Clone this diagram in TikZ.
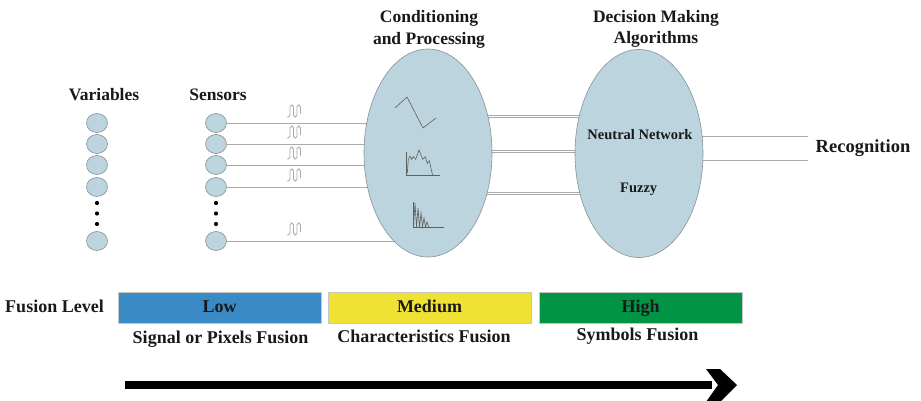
\documentclass[tikz,border=0pt]{standalone}
\usepackage{fontspec}
\setmainfont{Liberation Serif}
\usetikzlibrary{shapes.geometric}
\definecolor{ebl}{RGB}{188,212,222}
\definecolor{eborder}{RGB}{135,145,150}
\definecolor{lowc}{RGB}{58,138,198}
\definecolor{medc}{RGB}{240,226,50}
\definecolor{highc}{RGB}{0,148,68}
\definecolor{txt}{RGB}{25,25,25}
\definecolor{wire}{RGB}{170,170,170}
\definecolor{sketchc}{RGB}{95,95,95}
\pgfdeclarelayer{bg}
\pgfsetlayers{bg,main}
\tikzset{
  lbl/.style={font=\bfseries\fontsize{17.5}{21.7}\selectfont, text=txt, inner sep=0pt, anchor=base, align=center},
  blbl/.style={font=\bfseries\fontsize{18}{21}\selectfont, text=txt, inner sep=0pt, anchor=base},
  inlbl/.style={font=\bfseries\fontsize{14.5}{17}\selectfont, text=txt, inner sep=0pt, anchor=base},
  bigell/.style={ellipse, fill=ebl, draw=eborder, line width=0.6pt, minimum width=128pt, minimum height=208pt, inner sep=0pt},
  ball/.style={ellipse, fill=ebl, draw=eborder, line width=0.6pt, minimum width=21pt, minimum height=19pt, inner sep=0pt},
  bdot/.style={circle, fill=black, minimum size=4.2pt, inner sep=0pt},
  wireline/.style={draw=wire, line width=0.8pt},
  dline/.style={draw=wire, line width=0.7pt, double=white, double distance=1.8pt},
  levelbox/.style={draw=gray!45, line width=0.4pt, minimum width=203pt, minimum height=31pt, inner sep=0pt,
    font=\bfseries\fontsize{18}{21}\selectfont, text=txt, text height=12.5pt, text depth=3.5pt},
  skl/.style={draw=sketchc, line width=0.6pt, line join=miter},
  sq/.pic={\draw[draw=wire, line width=0.8pt, rounded corners=1.8pt]
     (-8,6) -- (-5,6) -- (-5,-6) -- (-1.5,-6) -- (-1.5,6) -- (2,6) -- (2,-6) -- (5.5,-6) -- (5.5,3);}
}
\begin{document}
\begin{tikzpicture}[x=1pt,y=-1pt]
\useasboundingbox (0,0) rectangle (921,401);

% ellipses
\node[bigell] (e1) at (428,153) {};
\node[bigell] (e2) at (639,153.5) {};

% titles
\node[lbl] (vt) at (104,101) {Variables};
\node[lbl] (st) at (218,101) {Sensors};
\node[lbl] (ct) at (429,44.4) {Conditioning\\and Processing};
\node[lbl] (dt) at (656,43.8) {Decision Making\\Algorithms};

% variables
\foreach \i/\y in {1/123,2/144,3/165,4/187,5/241}{
  \node[ball] (v\i) at (97,\y) {};
  \node[ball] (s\i) at (216,\y) {};
}
\foreach \y in {203,213.5,224}{
  \node[bdot] at (97,\y) {};
  \node[bdot] at (216,\y) {};
}

% sensor wires and squiggles
\begin{pgfonlayer}{bg}
\foreach \i in {1,...,5}{
  \draw[wireline] (s\i.east) -- (s\i -| e1);
}
\coordinate (m1) at (0,116.5);
\coordinate (m2) at (0,151.5);
\coordinate (m3) at (0,193.5);
\foreach \m in {m1,m2,m3}{
  \draw[dline] (e1 |- \m) -- (e2 |- \m);
}
\coordinate (r1) at (808,137.7);
\coordinate (r2) at (808,159.3);
\draw[dline] (e2 |- r1) -- (r1);
\draw[dline] (e2 |- r2) -- (r2);
\end{pgfonlayer}

\foreach \y in {123,144,165,187,241}{
  \pic at (295,\y-12) {sq};
}

% sketches inside conditioning ellipse
\draw[skl] (395,108) -- (407,97) -- (423,128) -- (436,118);
\draw[skl] (406.7,151.7) -- (406.7,175.7) -- (440,175.7);
\draw[skl] (407.3,173) -- (408.3,159.3) -- (410,156) -- (411.7,159.3) -- (413.3,156.7) -- (415.7,159.3)
  -- (419,150) -- (422.7,159.3) -- (425.3,156.7) -- (427.3,163.3) -- (429.3,160.7) -- (432.7,175.7);
\draw[skl] (413,201.7) -- (413,227.7) -- (444,227.7);
\draw[skl] (413.5,227) -- (415,203) -- (416.5,227) -- (418,208) -- (419.5,227) -- (421,213)
  -- (422.5,227) -- (424,218) -- (425.5,227) -- (427,222) -- (429,227.5);

% decision labels
\node[inlbl] (nn) at (640,139.3) {Neutral Network};
\node[inlbl] (fz) at (638.7,192.7) {Fuzzy};
\node[lbl, font=\bfseries\fontsize{18.5}{21}\selectfont] (rec) at (863,152.7) {Recognition};

% fusion levels
\node[blbl] (fl) at (54.5,312.7) {Fusion Level};
\node[levelbox, fill=lowc] (low) at (219.5,307.5) {Low};
\node[levelbox, fill=medc] (med) at (429.5,307.5) {Medium};
\node[levelbox, fill=highc] (high) at (640.5,307.5) {High};
\node[blbl] (sp) at (220.5,343.3) {Signal or Pixels Fusion};
\node[blbl] (cf) at (424,342.3) {Characteristics Fusion};
\node[blbl] (sf) at (637.5,340) {Symbols Fusion};

% big arrow
\coordinate (a1) at (125,385);
\coordinate (a2) at (712,385);
\draw[line width=7.5pt] (a1) -- (a2);
\fill ([xshift=-6pt,yshift=-17pt]a2) -- ([xshift=8pt,yshift=-17pt]a2) -- ([xshift=25pt]a2)
  -- ([xshift=8pt,yshift=16pt]a2) -- ([xshift=-6pt,yshift=16pt]a2) -- ([xshift=6pt]a2) -- cycle;
\end{tikzpicture}
\end{document}
